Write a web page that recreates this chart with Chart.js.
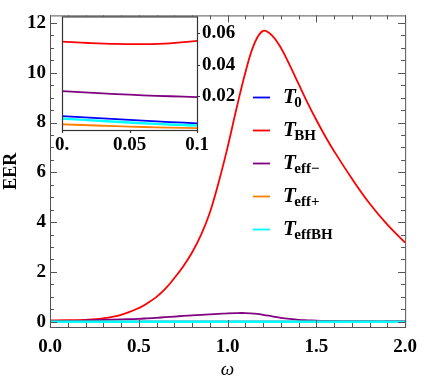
<!DOCTYPE html>
<html>
<head>
<meta charset="utf-8">
<script src="https://cdn.jsdelivr.net/npm/chart.js@4.4.1/dist/chart.umd.min.js"></script>
<style>
  body { margin: 0; background: #fff; }
  #wrap { position: relative; width: 426px; height: 381px; }
  #mainChart { position: absolute; left: 0; top: 0; }
  #insetChart { position: absolute; left: 50px; top: 0px; }
</style>
</head>
<body>
<div id="wrap">
  <canvas id="mainChart" width="426" height="381"></canvas>
  <canvas id="insetChart" width="192" height="161"></canvas>
</div>
<script>
// main plot data (omega on x)
const omega      = [0, 0.1, 0.2, 0.3, 0.4, 0.5, 0.55, 0.6, 0.65, 0.7, 0.75, 0.8, 0.85, 0.9, 0.95, 1.0, 1.05, 1.1, 1.15, 1.2, 1.25, 1.3, 1.35, 1.4, 1.45, 1.5, 1.55, 1.6, 1.7, 1.8, 1.9, 2.0];
const tBH        = [0.055, 0.06, 0.08, 0.14, 0.28, 0.55, 0.75, 1.0, 1.33, 1.75, 2.22, 2.78, 3.48, 4.38, 5.6, 7.0, 8.55, 10.0, 11.15, 11.68, 11.5, 11.0, 10.3, 9.55, 8.8, 8.1, 7.45, 6.85, 5.75, 4.75, 3.9, 3.18];
const tEffMinus  = [0.023, 0.03, 0.05, 0.075, 0.1, 0.12, 0.14, 0.16, 0.185, 0.21, 0.235, 0.26, 0.28, 0.3, 0.32, 0.34, 0.35, 0.35, 0.33, 0.28, 0.22, 0.16, 0.115, 0.08, 0.06, 0.045, 0.035, 0.03, 0.025, 0.02, 0.02, 0.02];
const tZero      = [0.0076, 0.003, 0.002, 0.0015, 0.001, 0.001, 0.001, 0.001, 0.001, 0.001, 0.001, 0.001, 0.001, 0.001, 0.001, 0.001, 0.001, 0.001, 0.001, 0.001, 0.001, 0.001, 0.001, 0.001, 0.001, 0.001, 0.001, 0.001, 0.001, 0.001, 0.001, 0.001];
const tEffPlus   = [0.0024, 0.0, 0.0, 0.0, 0.0, 0.0, 0.0, 0.0, 0.0, 0.0, 0.0, 0.0, 0.0, 0.0, 0.0, 0.0, 0.0, 0.0, 0.0, 0.0, 0.0, 0.0, 0.0, 0.0, 0.0, 0.0, 0.0, 0.0, 0.0, 0.0, 0.0, 0.0];
const tEffBH     = [0.006, 0.0016, 0.001, 0.0005, 0.0, 0.0, 0.0, 0.0, 0.0, 0.0, 0.0, 0.0, 0.0, 0.0, 0.0, 0.0, 0.0, 0.0, 0.0, 0.0, 0.0, 0.0, 0.0, 0.0, 0.0, 0.0, 0.0, 0.0, 0.0, 0.0, 0.0, 0.0];

// inset data (0 <= omega <= 0.1)
const insetOmega     = [0, 0.02, 0.04, 0.06, 0.08, 0.1];
const insetTZero     = [0.0076, 0.0066, 0.0056, 0.0047, 0.0038, 0.0030];
const insetTBH       = [0.0546, 0.0537, 0.0531, 0.0530, 0.0535, 0.0550];
const insetTEffMinus = [0.0234, 0.0224, 0.0215, 0.0207, 0.0201, 0.0196];
const insetTEffPlus  = [0.0024, 0.0018, 0.0012, 0.0007, 0.0003, 0.0000];
const insetTEffBH    = [0.0060, 0.0050, 0.0040, 0.0031, 0.0023, 0.0016];

const xTicks = [0, 0.5, 1, 1.5, 2];
const yTicks = [0, 2, 4, 6, 8, 10, 12];
const insetXTicks  = [0, 0.05, 0.1];
const insetXLabels = ['0.', '0.05', '0.1'];
const insetYTicks  = [0.02, 0.04, 0.06];

const legendSubs   = ['0', 'BH', 'eff\u2212', 'eff+', 'effBH'];
const seriesColors = ['#0000ff', '#ff0000', '#800080', '#ff8000', '#00ffff'];

const tickFont = { family: 'Liberation Serif', size: 19, weight: 'bold' };

function toPoints(xs, ys) {
    return xs.map((x, i) => ({ x: x, y: ys[i] }));
}

function makeDatasets(xs, seriesList) {
    return seriesList.map((ys, i) => ({
        label: 'T' + legendSubs[i],
        data: toPoints(xs, ys),
        borderColor: seriesColors[i],
        borderWidth: i === 4 ? 2.4 : 1.8,
        pointRadius: 0,
        fill: false,
        tension: 0.4,
        order: 4 - i   // cyan on top
    }));
}

// Mathematica-like frame with inward ticks
const frameTicks = {
    id: 'frameTicks',
    afterDraw(chart) {
        const { ctx, chartArea: a, scales } = chart;
        const x = scales.x, y = scales.y;
        ctx.save();
        ctx.strokeStyle = '#555';
        ctx.lineWidth = 1;
        ctx.strokeRect(a.left + 0.5, a.top + 0.5, a.right - a.left, a.bottom - a.top);
        const tickX = (v, len) => {
            const px = Math.round(x.getPixelForValue(v)) + 0.5;
            ctx.beginPath();
            ctx.moveTo(px, a.bottom); ctx.lineTo(px, a.bottom - len);
            ctx.moveTo(px, a.top); ctx.lineTo(px, a.top + len);
            ctx.stroke();
        };
        const tickY = (v, len) => {
            const py = Math.round(y.getPixelForValue(v)) + 0.5;
            ctx.beginPath();
            ctx.moveTo(a.left, py); ctx.lineTo(a.left + len, py);
            ctx.moveTo(a.right, py); ctx.lineTo(a.right - len, py);
            ctx.stroke();
        };
        for (let i = 0; i <= 20; i++) tickX(i / 10, i % 5 === 0 ? 7 : 4);
        for (let i = 0; i <= 24; i++) tickY(i / 2, i % 4 === 0 ? 7 : 4);
        ctx.restore();
    }
};

// legend with subscripts
const subLegend = {
    id: 'subLegend',
    afterDraw(chart) {
        const ctx = chart.ctx;
        ctx.save();
        legendSubs.forEach((sub, i) => {
            const yy = 97 + i * 33;
            ctx.strokeStyle = seriesColors[i];
            ctx.lineWidth = 1.8;
            ctx.beginPath();
            ctx.moveTo(253, yy + 0.5);
            ctx.lineTo(270, yy + 0.5);
            ctx.stroke();
            ctx.fillStyle = '#000';
            ctx.textBaseline = 'alphabetic';
            ctx.font = 'italic bold 21px "Liberation Serif"';
            ctx.fillText('T', 283, yy + 6);
            const w = ctx.measureText('T').width;
            ctx.font = 'bold 15px "Liberation Serif"';
            ctx.fillText(sub, 283 + w - 1.5, yy + 10);
        });
        ctx.restore();
    }
};

new Chart(document.getElementById('mainChart'), {
    type: 'line',
    data: {
        datasets: makeDatasets(omega, [tZero, tBH, tEffMinus, tEffPlus, tEffBH])
    },
    options: {
        responsive: false,
        animation: false,
        events: [],
        layout: { padding: { top: 3, right: 14, left: 0, bottom: 0 } },
        plugins: { legend: { display: false }, tooltip: { enabled: false } },
        scales: {
            x: {
                type: 'linear',
                min: 0,
                max: 2,
                grid: { display: false, drawTicks: false },
                border: { display: false },
                afterBuildTicks: (s) => { s.ticks = xTicks.map(v => ({ value: v })); },
                afterFit: (s) => { s.height = 54; },
                ticks: {
                    font: tickFont,
                    color: '#000',
                    padding: 9,
                    maxRotation: 0,
                    callback: (v) => Number(v).toFixed(1)
                },
                title: {
                    display: true,
                    text: '\u03C9',
                    color: '#000',
                    font: { family: 'Liberation Serif', size: 19, style: 'italic' },
                    padding: 0
                }
            },
            y: {
                min: -0.21,
                max: 12.3,
                grid: { display: false, drawTicks: false },
                border: { display: false },
                afterBuildTicks: (s) => { s.ticks = yTicks.map(v => ({ value: v })); },
                afterFit: (s) => { s.width = 50; },
                ticks: { font: tickFont, color: '#000', padding: 4 },
                title: {
                    display: true,
                    text: 'EER',
                    color: '#000',
                    font: { family: 'Liberation Serif', size: 18, weight: 'bold' },
                    padding: 1
                }
            }
        }
    },
    plugins: [frameTicks, subLegend]
});

// inset: white box, dark frame, outward ticks at labels
const insetFrame = {
    id: 'insetFrame',
    beforeDatasetsDraw(chart) {
        const { ctx, chartArea: a } = chart;
        ctx.save();
        ctx.fillStyle = '#fff';
        ctx.fillRect(a.left, a.top, a.right - a.left, a.bottom - a.top);
        ctx.restore();
    },
    afterDraw(chart) {
        const { ctx, chartArea: a, scales } = chart;
        ctx.save();
        ctx.strokeStyle = '#333';
        ctx.lineWidth = 1.2;
        ctx.strokeRect(a.left + 0.5, a.top + 0.5, a.right - a.left, a.bottom - a.top);
        ctx.beginPath();
        insetYTicks.forEach(v => {
            const py = Math.round(scales.y.getPixelForValue(v)) + 0.5;
            ctx.moveTo(a.right, py); ctx.lineTo(a.right + 3, py);
        });
        insetXTicks.forEach(v => {
            const px = Math.round(scales.x.getPixelForValue(v)) + 0.5;
            ctx.moveTo(px, a.bottom); ctx.lineTo(px, a.bottom + 3);
        });
        ctx.stroke();
        ctx.restore();
    }
};

new Chart(document.getElementById('insetChart'), {
    type: 'line',
    data: {
        datasets: makeDatasets(insetOmega, [insetTZero, insetTBH, insetTEffMinus, insetTEffPlus, insetTEffBH])
    },
    options: {
        responsive: false,
        animation: false,
        events: [],
        layout: { padding: { top: 11, left: 12, right: 0, bottom: 0 } },
        plugins: { legend: { display: false }, tooltip: { enabled: false } },
        scales: {
            x: {
                type: 'linear',
                min: 0,
                max: 0.1,
                grid: { display: false, drawTicks: false },
                border: { display: false },
                afterBuildTicks: (s) => { s.ticks = insetXTicks.map(v => ({ value: v })); },
                afterFit: (s) => { s.height = 31; },
                ticks: {
                    font: tickFont,
                    color: '#000',
                    padding: 4,
                    maxRotation: 0,
                    callback: (v, i) => insetXLabels[i]
                }
            },
            y: {
                position: 'right',
                min: -0.0012,
                max: 0.0705,
                grid: { display: false, drawTicks: false },
                border: { display: false },
                afterBuildTicks: (s) => { s.ticks = insetYTicks.map(v => ({ value: v })); },
                afterFit: (s) => { s.width = 45; },
                ticks: {
                    font: tickFont,
                    color: '#000',
                    padding: 5,
                    callback: (v) => Number(v).toFixed(2)
                }
            }
        }
    },
    plugins: [insetFrame]
});
</script>
</body>
</html>
